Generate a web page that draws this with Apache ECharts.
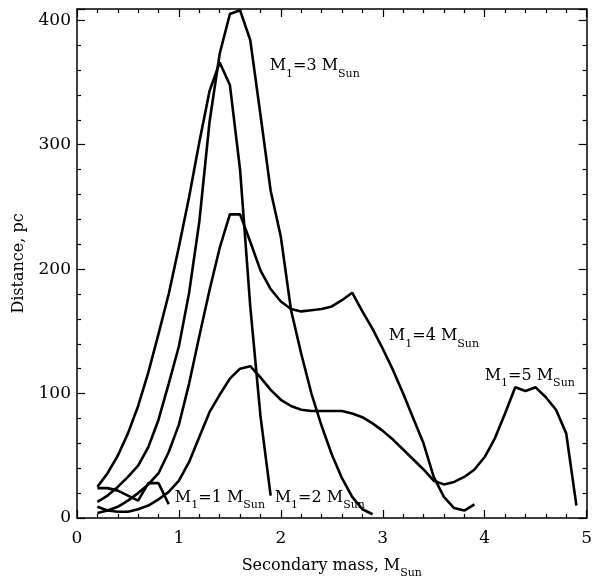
<!DOCTYPE html>
<html>
<head>
<meta charset="utf-8">
<script src="https://cdn.jsdelivr.net/npm/echarts@6/dist/echarts.min.js"></script>
<style>
html,body{margin:0;padding:0;background:#fff;}
#chart{width:595px;height:584px;}
</style>
</head>
<body>
<div id="chart"></div>
<script>
// ---- data ----
const mass1 = [0.2,0.3,0.4,0.5,0.6,0.7,0.8,0.9];
const dist1 = [24,24,22,18,14,28,28,11];

const mass2 = [0.2,0.3,0.4,0.5,0.6,0.7,0.8,0.9,1.0,1.1,1.2,1.3,1.4,1.5,1.6,1.7,1.8,1.9];
const dist2 = [25,36,50,68,90,117,148,180,218,258,302,343,366,348,280,170,82,18];

const mass3 = [0.2,0.3,0.4,0.5,0.6,0.7,0.8,0.9,1.0,1.1,1.2,1.3,1.4,1.5,1.6,1.7,1.8,1.9,2.0,2.1,2.2,2.3,2.4,2.5,2.6,2.7,2.8,2.9];
const dist3 = [13,18,25,33,42,57,79,108,138,181,238,318,373,405,408,384,324,263,226,167,132,100,74,51,32,17,7,3];

const mass4 = [0.2,0.3,0.4,0.5,0.6,0.7,0.8,0.9,1.0,1.1,1.2,1.3,1.4,1.5,1.6,1.7,1.8,1.9,2.0,2.1,2.2,2.3,2.4,2.5,2.6,2.7,2.8,2.9,3.0,3.1,3.2,3.3,3.4,3.5,3.6,3.7,3.8,3.9];
const dist4 = [4,6,9,14,20,27,36,53,75,108,146,183,217,244,244,222,199,184,174,168,166,167,168,170,175,181,166,152,136,119,100,80,60,33,17,8,6,11];

const mass5 = [0.2,0.3,0.4,0.5,0.6,0.7,0.8,0.9,1.0,1.1,1.2,1.3,1.4,1.5,1.6,1.7,1.8,1.9,2.0,2.1,2.2,2.3,2.4,2.5,2.6,2.7,2.8,2.9,3.0,3.1,3.2,3.3,3.4,3.5,3.6,3.7,3.8,3.9,4.0,4.1,4.2,4.3,4.4,4.5,4.6,4.7,4.8,4.9];
const dist5 = [9,6,5,5,7,10,15,21,30,45,65,85,99,112,120,122,113,103,95,90,87,86,86,86,86,84,81,76,70,63,55,47,39,30,27,29,33,39,49,64,84,105,102,105,97,87,68,10];

const primaryMasses = ['1','2','3','4','5'];
const labelAnchors = [[0.96,16],[1.94,16],[1.89,363],[3.06,146],[4.0,114]];

const xTicks = [0,1,2,3,4,5];
const yTicks = [0,100,200,300,400];
const xRange = [0,5];
const yRange = [0,409];

// ---- chart ----
const FONT = 'DejaVu Serif';
const chart = echarts.init(document.getElementById('chart'), null, {renderer:'canvas'});

function zip(xs, ys){ return xs.map((x,i)=>[x, ys[i]]); }
const allMass = [mass1,mass2,mass3,mass4,mass5];
const allDist = [dist1,dist2,dist3,dist4,dist5];

const rich = {
  n:{fontFamily:FONT,fontSize:16,color:'#000',lineHeight:20},
  s:{fontFamily:FONT,fontSize:11,color:'#000',lineHeight:20,verticalAlign:'bottom',padding:[0,0,-3,0]}
};

const series = allMass.map((m,i)=>({
  type:'line',
  data: zip(m, allDist[i]),
  symbol:'none',
  lineStyle:{color:'#000',width:2.6},
  xAxisIndex:0, yAxisIndex:0,
  silent:true,
  animation:false,
  markPoint:{
    symbol:'circle', symbolSize:0,
    data:[{coord:labelAnchors[i]}],
    label:{
      show:true, position:'right', distance:0,
      formatter:'{n|M}{s|1}{n|='+primaryMasses[i]+' M}{s|Sun}',
      rich:rich
    }
  }
}));

const tickLine = {lineStyle:{color:'#000',width:1.2}};
const commonX = {
  type:'value', min:xRange[0], max:xRange[1], interval:1,
  splitLine:{show:false},
  axisLine:{show:true,onZero:false,lineStyle:{color:'#000',width:1.5}},
  axisTick:{show:true,inside:true,length:8,lineStyle:{color:'#000',width:1.2}},
  minorTick:{show:true,splitNumber:5,length:4,lineStyle:{color:'#000',width:1.2}}
};
const commonY = {
  type:'value', min:yRange[0], max:yRange[1], interval:100,
  splitLine:{show:false},
  axisLine:{show:true,onZero:false,lineStyle:{color:'#000',width:1.5}},
  axisTick:{show:true,inside:true,length:8,lineStyle:{color:'#000',width:1.2}},
  minorTick:{show:true,splitNumber:5,length:4,lineStyle:{color:'#000',width:1.2}}
};

const option = {
  backgroundColor:'#fff',
  animation:false,
  grid:{left:77,right:4,top:9,bottom:61,containLabel:false},
  xAxis:[
    Object.assign({}, commonX, {
      position:'bottom',
      name:'{n|Secondary mass, M}{s|Sun}',
      nameLocation:'middle', nameGap:38,
      nameTextStyle:{rich:rich},
      axisLabel:{show:true,margin:12,fontFamily:FONT,fontSize:17,color:'#000',
        formatter:v=> xTicks.includes(v)? String(v):''}
    }),
    Object.assign({}, commonX, {position:'top', axisLabel:{show:false}})
  ],
  yAxis:[
    Object.assign({}, commonY, {
      position:'left',
      name:'Distance, pc',
      nameLocation:'middle', nameGap:50, nameRotate:90,
      nameTextStyle:{fontFamily:FONT,fontSize:16,color:'#000'},
      axisLabel:{show:true,margin:6,fontFamily:FONT,fontSize:17,color:'#000',
        showMaxLabel:false,
        formatter:v=> yTicks.includes(v)? String(v):''}
    }),
    Object.assign({}, commonY, {position:'right', axisLabel:{show:false}})
  ],
  series:series
};
chart.setOption(option);
</script>
</body>
</html>
